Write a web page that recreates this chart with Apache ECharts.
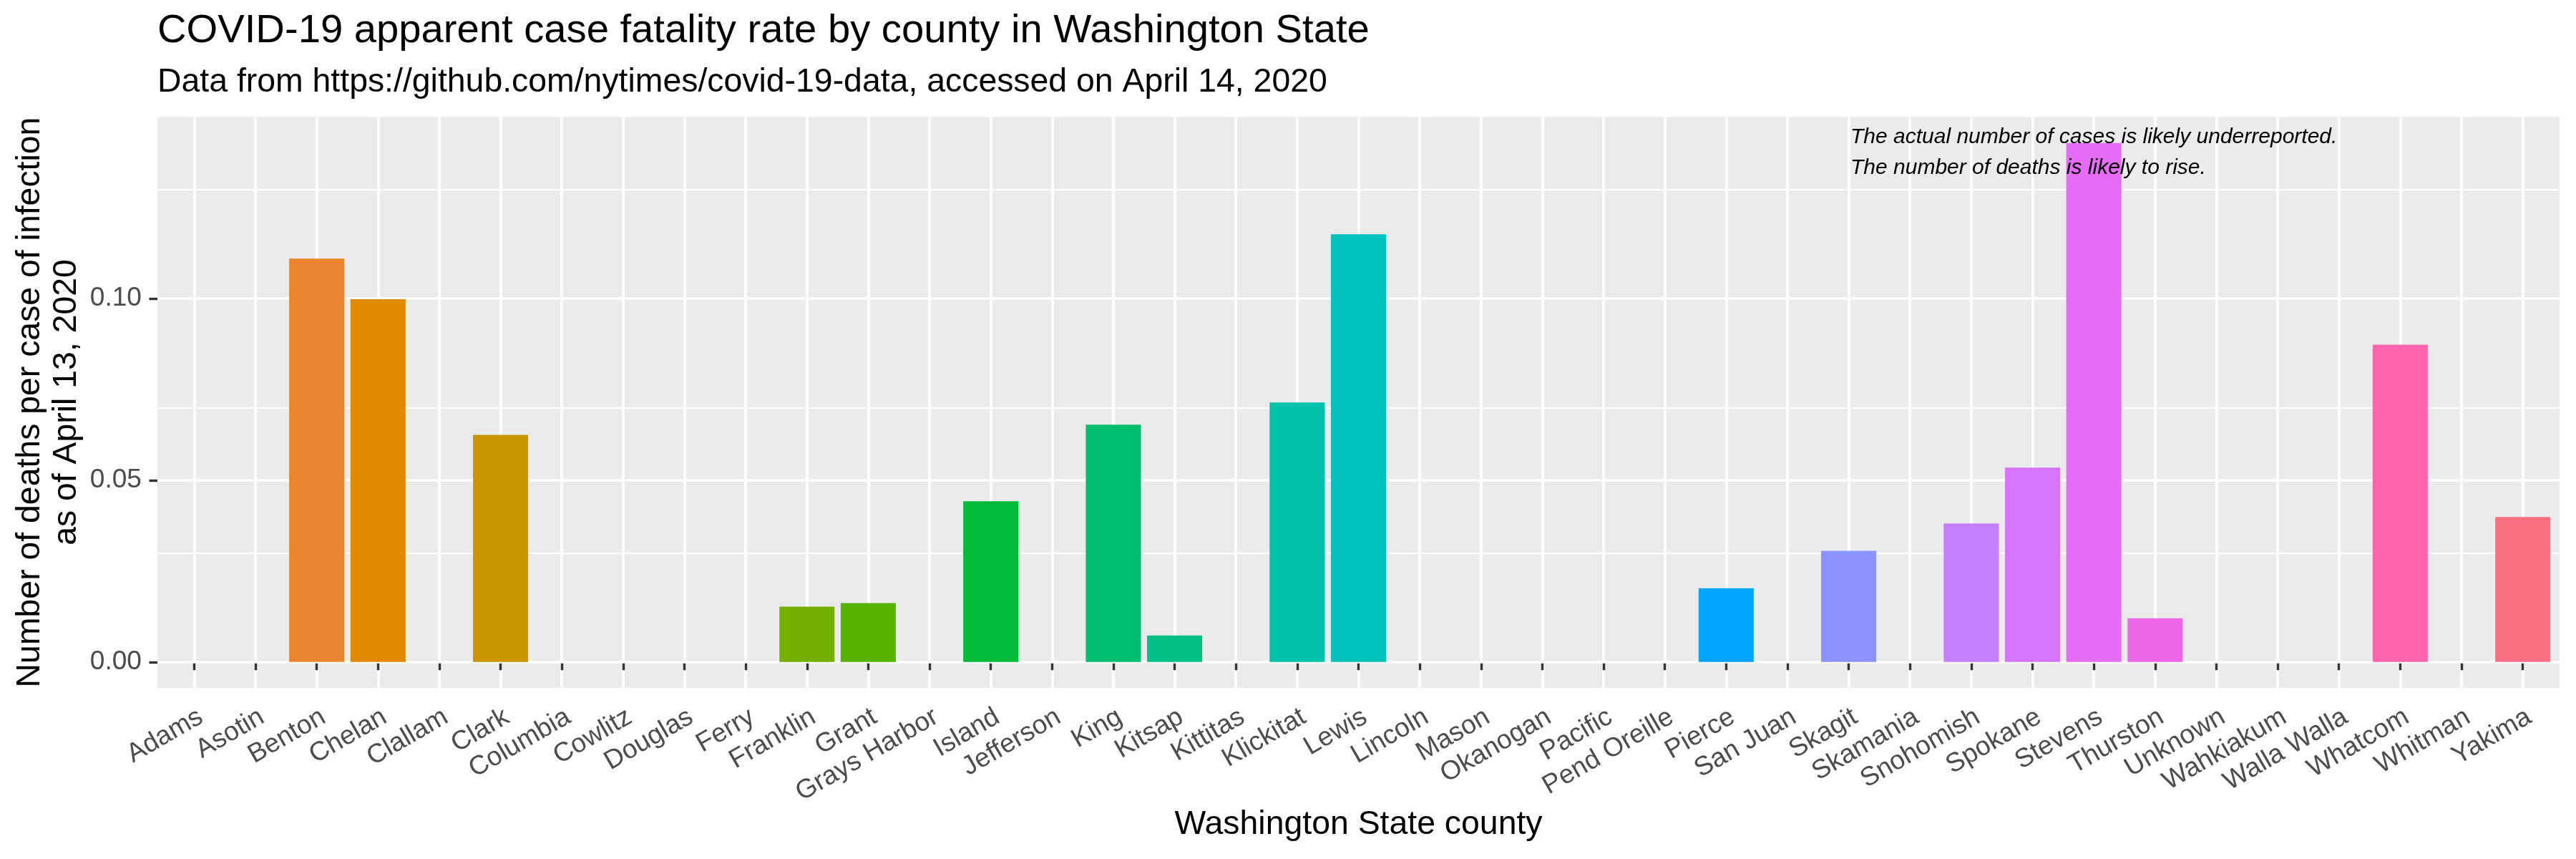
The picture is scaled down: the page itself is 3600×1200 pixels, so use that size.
<!DOCTYPE html>
<html>
<head>
<meta charset="utf-8">
<script src="https://cdn.jsdelivr.net/npm/echarts@6/dist/echarts.min.js"></script>
<style>
html,body{margin:0;padding:0;background:#fff;}
#chart{width:3600px;height:1200px;}
</style>
</head>
<body>
<div id="chart"></div>
<script>
// ---- data ----
const counties = ["Adams","Asotin","Benton","Chelan","Clallam","Clark","Columbia","Cowlitz","Douglas","Ferry",
  "Franklin","Grant","Grays Harbor","Island","Jefferson","King","Kitsap","Kittitas","Klickitat","Lewis",
  "Lincoln","Mason","Okanogan","Pacific","Pend Oreille","Pierce","San Juan","Skagit","Skamania","Snohomish",
  "Spokane","Stevens","Thurston","Unknown","Wahkiakum","Walla Walla","Whatcom","Whitman","Yakima"];
const fatalityRate = [0,0,0.1110,0.0998,0,0.0625,0,0,0,0,
  0.0152,0.0162,0,0.0442,0,0.0653,0.0073,0,0.0714,0.1177,
  0,0,0,0,0,0.0203,0,0.0306,0,0.0381,
  0.0535,0.1428,0.0120,0,0,0,0.0873,0,0.0399];
const yTickValues = [0, 0.05, 0.10];
const yMinorValues = [0.025, 0.075, 0.125];
const titleText = "COVID-19 apparent case fatality rate by county in Washington State";
const subtitleText = "Data from https://github.com/nytimes/covid-19-data, accessed on April 14, 2020";
const yTitleText = "Number of deaths per case of infection\nas of April 13, 2020";
const xTitleText = "Washington State county";
const noteText = "The actual number of cases is likely underreported.\nThe number of deaths is likely to rise.";

// ggplot2 hue palette (hcl, c=100, l=65)
function hcl(h, c, l) {
  const hr = h * Math.PI / 180;
  const U = c * Math.cos(hr), V = c * Math.sin(hr);
  const Xn = 95.047, Yn = 100, Zn = 108.883;
  const Y = l > 8 ? Yn * Math.pow((l + 16) / 116, 3) : Yn * l / 903.3;
  const den = Xn + 15 * Yn + 3 * Zn;
  const un = 4 * Xn / den, vn = 9 * Yn / den;
  const u = U / (13 * l) + un, v = V / (13 * l) + vn;
  const X = 9 * Y * u / (4 * v);
  const Z = -X / 3 - 5 * Y + 3 * Y / v;
  const x = X / 100, y = Y / 100, z = Z / 100;
  let rgb = [3.240479 * x - 1.537150 * y - 0.498535 * z,
             -0.969256 * x + 1.875992 * y + 0.041556 * z,
             0.055648 * x - 0.204043 * y + 1.057311 * z];
  rgb = rgb.map(t => {
    t = t <= 0.0031308 ? 12.92 * t : 1.055 * Math.pow(t, 1 / 2.4) - 0.055;
    t = Math.max(0, Math.min(1, t));
    return Math.round(t * 255);
  });
  return 'rgb(' + rgb.join(',') + ')';
}
const n = counties.length;
const palette = counties.map((_, i) => hcl((15 + i * 360 / n) % 360, 100, 65));

const FONT = '"Liberation Sans", Arial, sans-serif';
const BASE = 46.4;
const Y_MIN = -0.00714, Y_MAX = 0.14994;
const PANEL = {left: 220, right: 23, top: 163.5, bottom: 239};
const unit = (3600 - PANEL.left - PANEL.right) / (n + 0.2);
const pad = unit * 0.1;

const chart = echarts.init(document.getElementById('chart'), null, {renderer: 'canvas'});
const option = {
  animation: false,
  backgroundColor: '#ffffff',
  grid: [
    {left: PANEL.left, right: PANEL.right, top: PANEL.top, bottom: PANEL.bottom,
     show: true, backgroundColor: '#EBEBEB', borderWidth: 0, containLabel: false},
    {left: PANEL.left + pad, right: PANEL.right + pad, top: PANEL.top, bottom: PANEL.bottom, containLabel: false}
  ],
  xAxis: [
    {type: 'value', gridIndex: 0, min: 0, max: 1, show: false},
    {type: 'category', gridIndex: 1, data: counties, boundaryGap: true,
     axisLine: {show: false},
     axisTick: {show: true, alignWithLabel: true, length: 11.5, lineStyle: {color: '#333333', width: 3.4}},
     axisLabel: {show: true, interval: 0, rotate: 30, margin: 22, color: '#4D4D4D',
                 align: 'right', verticalAlign: 'top',
                 fontFamily: FONT, fontSize: BASE * 0.8},
     splitLine: {show: true, alignWithLabel: true, lineStyle: {color: '#FFFFFF', width: 3.6}}}
  ],
  yAxis: [
    {type: 'value', gridIndex: 0, min: Y_MIN, max: Y_MAX,
     axisLine: {show: false},
     axisTick: {show: true, length: 11.5, customValues: yTickValues, lineStyle: {color: '#333333', width: 3.4}},
     axisLabel: {show: true, customValues: yTickValues, margin: 22, color: '#4D4D4D', fontFamily: FONT, fontSize: BASE * 0.8,
                 formatter: v => v.toFixed(2)},
     splitLine: {show: false}},
    {type: 'value', gridIndex: 1, min: Y_MIN, max: Y_MAX, show: false, splitLine: {show: false}}
  ],
  series: [
    {type: 'line', xAxisIndex: 0, yAxisIndex: 0, data: [], z: 1, silent: true,
     markLine: {silent: true, symbol: ['none', 'none'], z: 1, label: {show: false},
       data: yTickValues.map(v => ({yAxis: v, lineStyle: {color: '#FFFFFF', width: 3.6, type: 'solid'}}))
         .concat(yMinorValues.map(v => ({yAxis: v, lineStyle: {color: '#FFFFFF', width: 1.8, type: 'solid'}})))}
    },
    {type: 'bar', xAxisIndex: 1, yAxisIndex: 1, data: fatalityRate, barWidth: '90%', z: 10,
     itemStyle: {color: p => palette[p.dataIndex]}}
  ],
  graphic: [
    {type: 'text', left: 220, top: 15.5, style: {text: titleText, font: '56.2px ' + FONT, fill: '#000000'}},
    {type: 'text', left: 220, top: 92.5, style: {text: subtitleText, font: BASE + 'px ' + FONT, fill: '#000000'}},
    {type: 'text', x: 68, y: 562, rotation: Math.PI / 2,
     style: {text: yTitleText, font: BASE + 'px ' + FONT, fill: '#000000', align: 'center', verticalAlign: 'middle', lineHeight: 51}},
    {type: 'text', x: 1898.5, y: 1152,
     style: {text: xTitleText, font: BASE + 'px ' + FONT, fill: '#000000', align: 'center', verticalAlign: 'middle'}},
    {type: 'text', left: 2586, top: 170, z: 20,
     style: {text: noteText, font: 'italic 30px ' + FONT, fill: '#000000', lineHeight: 43}}
  ]
};
chart.setOption(option);
</script>
</body>
</html>
